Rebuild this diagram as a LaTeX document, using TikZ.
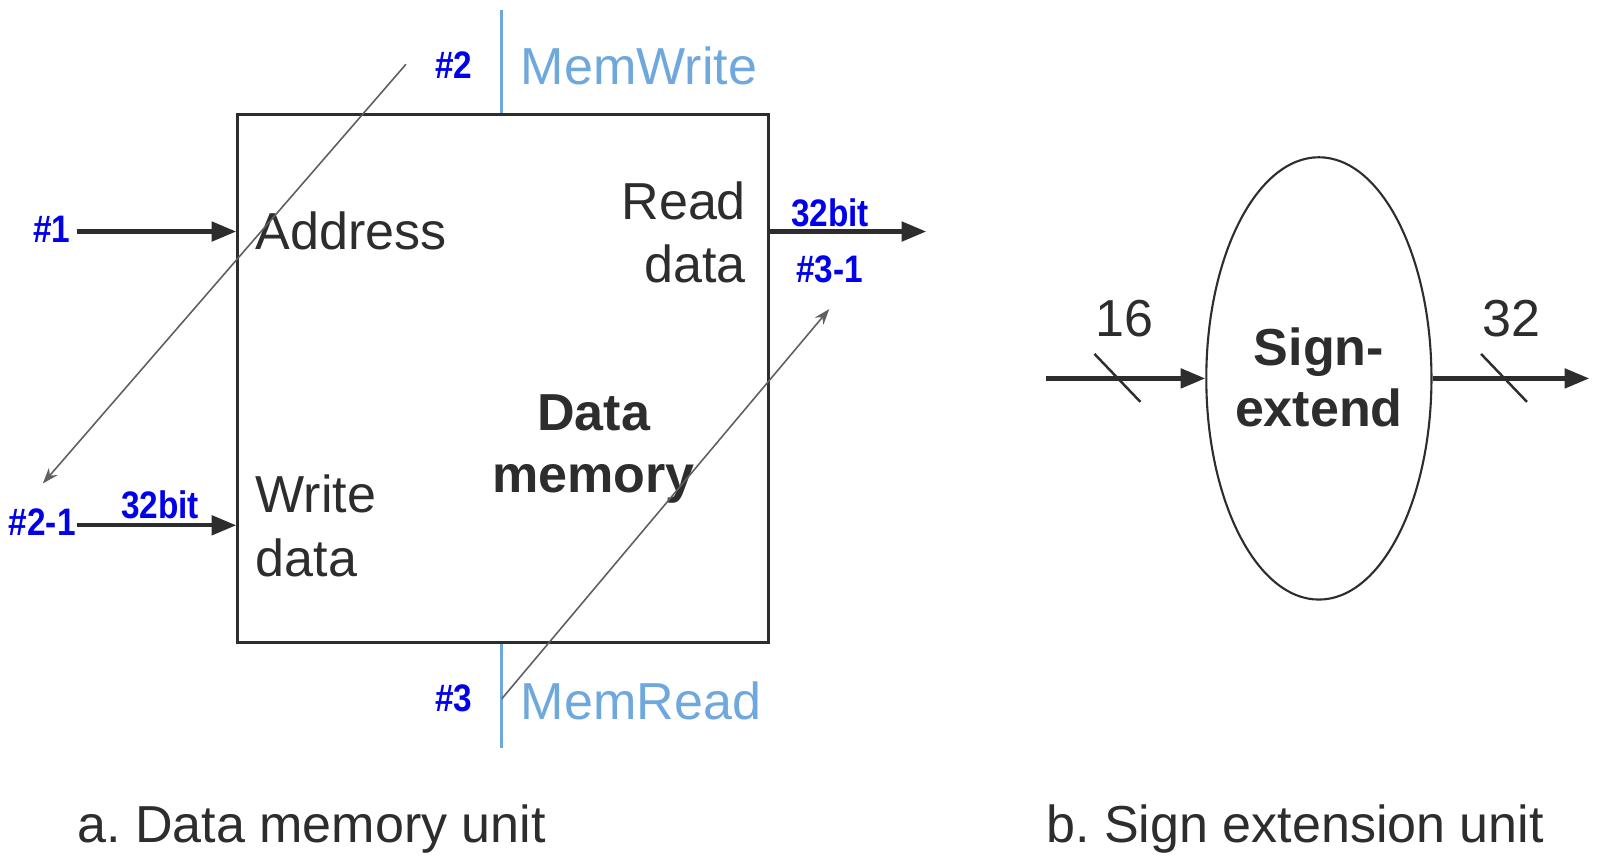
\documentclass[tikz,border=0pt]{standalone}
\usepackage{fontspec}
\setmainfont{Liberation Sans}
\newfontfamily\lblfont{Liberation Sans}[FakeStretch=0.87]
\usetikzlibrary{arrows.meta,shapes.geometric}
\definecolor{ink}{RGB}{45,45,45}
\definecolor{ctrl}{RGB}{111,168,220}
\definecolor{lblue}{RGB}{0,0,235}
\definecolor{thin}{RGB}{95,95,95}
\frenchspacing
\begin{document}
\begin{tikzpicture}[x=0.0102cm,y=-0.0102cm,
  txt/.style={font=\fontsize{14.8}{17}\selectfont, text=ink, inner sep=0},
  btxt/.style={font=\fontsize{14.8}{17}\selectfont\bfseries, text=ink, inner sep=0},
  ctxt/.style={font=\fontsize{14.8}{17}\selectfont, text=ctrl, inner sep=0},
  lbl/.style={font=\lblfont\bfseries\fontsize{10.9}{12}\selectfont, text=lblue, inner sep=0},
  bus/.style={draw=ink, line width=1.2pt, -{Triangle[length=7pt,width=5.5pt]}},
  ctl/.style={draw=ctrl, line width=0.85pt},
  note/.style={draw=thin, line width=0.45pt, -{Stealth[length=4.5pt,width=3.2pt]}},
  slash/.style={draw=ink, line width=0.7pt},
]
\useasboundingbox (0,0) rectangle (1568.6,843.1);

% Data memory box
\node[draw=ink, line width=0.85pt, minimum width=5.3cm, minimum height=5.28cm, inner sep=0] (box) at (493,371) {};

% control lines
\coordinate (mwtop) at (492,10);
\coordinate (mrbot) at (492,733);
\draw[ctl] (mwtop) -- (box.north -| mwtop);
\draw[ctl] (box.south -| mrbot) -- (mrbot);
\node[ctxt, anchor=base west] (memwrite) at (510,83) {MemWrite};
\node[ctxt, anchor=base west] (memread) at (510,705) {MemRead};

% box texts
\node[txt, anchor=base west] (address) at (250,245) {Address};
\node[txt, anchor=base east] (read) at (732,215) {Read};
\node[txt, anchor=base east] (rdata) at (732,277) {data};
\node[txt, anchor=base west] (write) at (250,502) {Write};
\node[txt, anchor=base west] (wdata) at (250,565) {data};
\node[btxt, anchor=base] (dm1) at (582,422) {Data};
\node[btxt, anchor=base] (dm2) at (582,483) {memory};

% blue labels
\node[lbl, anchor=base west] (l2) at (426,77) {\#2};
\node[lbl, anchor=base west] (l1) at (32,238) {\#1};
\node[lbl, anchor=base west] (l21) at (8,525) {\#2-1};
\node[lbl, anchor=base west] (b32a) at (118,508) {32bit};
\node[lbl, anchor=base west] (b32b) at (775,222) {32bit};
\node[lbl, anchor=base west] (l31) at (780,277) {\#3-1};
\node[lbl, anchor=base west] (l3) at (426,698) {\#3};

% bus arrows
\coordinate (a1s) at (75,227);
\coordinate (a2s) at (75,515);
\coordinate (rdo) at (908,227);
\draw[bus] (a1s) -- (box.west |- a1s);
\draw[bus] (a2s) -- (box.west |- a2s);
\draw[bus] (box.east |- rdo) -- (rdo);

% note arrows
\coordinate (n2s) at (398,63);
\coordinate (n2e) at (42,474);
\coordinate (n3s) at (492,685);
\coordinate (n3e) at (813,303);
\draw[note] (n2s) -- (n2e);
\draw[note] (n3s) -- (n3e);

% sign extend
\node[draw=ink, line width=0.6pt, ellipse, minimum width=2.25cm, minimum height=4.42cm, inner sep=0] (se) at (1293,371) {};
\node[btxt, anchor=base] (se1) at (1293,358) {Sign-};
\node[btxt, anchor=base] (se2) at (1293,418) {extend};
\coordinate (sein) at (1025,371);
\coordinate (seout) at (1558,371);
\draw[bus] (sein) -- (se.west);
\draw[bus] (se.east) -- (seout);
\coordinate (s1a) at (1073,347); \coordinate (s1b) at (1118,394);
\coordinate (s2a) at (1452,347); \coordinate (s2b) at (1497,394);
\draw[slash] (s1a) -- (s1b);
\draw[slash] (s2a) -- (s2b);
\node[txt, anchor=base west] (n16) at (1073,330) {16};
\node[txt, anchor=base west] (n32) at (1453,330) {32};

% captions
\node[txt, anchor=base west] (capa) at (75,826) {a. Data memory unit};
\node[txt, anchor=base west] (capb) at (1025,826) {b. Sign extension unit};
\end{tikzpicture}
\end{document}
